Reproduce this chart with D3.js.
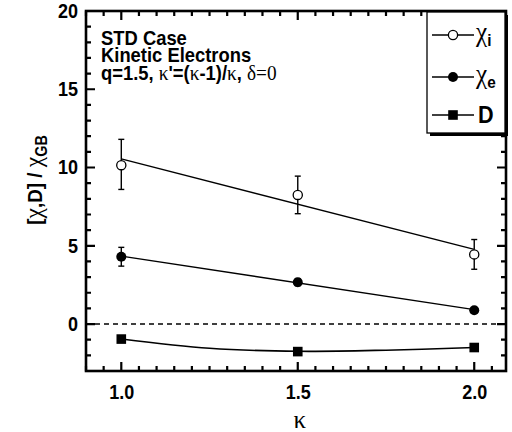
<!DOCTYPE html>
<html>
<head>
<meta charset="utf-8">
<script src="https://cdn.jsdelivr.net/npm/d3@7"></script>
<style>
  body { margin: 0; background: #fff; }
  svg { display: block; }
  .sans { font-family: "Liberation Sans", Arial, sans-serif; font-weight: bold; }
  .serif { font-family: "Liberation Serif", "Times New Roman", serif; font-weight: normal; }
</style>
</head>
<body>
<svg id="chart"></svg>
<script>
// data
let kappa = [1.0, 1.5, 2.0]
let chiI = [10.15, 8.25, 4.45]
let chiILow = [8.6, 7.05, 3.5]
let chiIHigh = [11.8, 9.45, 5.4]
let chiE = [4.3, 2.67, 0.88]
let chiELow = [3.7, 2.45, 0.88]
let chiEHigh = [4.9, 2.9, 0.88]
let dVal = [-0.96, -1.76, -1.5]

// fitted curves drawn in the figure
let fitKappa = [1.0, 2.0]
let chiIFit = [10.55, 4.77]
let chiEFit = [4.34, 0.92]
let dFitKappa = [1.0, 1.25, 1.5, 1.75, 2.0]
let dFit = [-0.96, -1.55, -1.74, -1.67, -1.5]

let xMajor = [1.0, 1.5, 2.0]
let yMajor = [0, 5, 10, 15, 20]

let w = 512
let h = 432
let pLeft = 86, pRight = 506, pTop = 11, pBottom = 371
let sq = 0.9  // horizontal squeeze for the condensed font

let svg = d3.select("#chart").attr("width", w).attr("height", h)

let x = d3.scaleLinear().domain([0.9, 2.09]).range([pLeft, pRight])
let y = d3.scaleLinear().domain([-3, 20]).range([pBottom, pTop])

let xMinor = d3.range(18, 42).map(i => i / 20).filter(v => !xMajor.some(m => Math.abs(m - v) < 1e-9))
let yMinor = d3.range(-3, 21).filter(v => !yMajor.includes(v))

// frame
svg.append("rect")
   .attr("x", pLeft).attr("y", pTop)
   .attr("width", pRight - pLeft).attr("height", pBottom - pTop)
   .attr("fill", "none").attr("stroke", "#000").attr("stroke-width", 2.6)

// tick labels from d3 axes
let labelAxis = (axis, tx, ty) => {
  let g = svg.append("g").attr("transform", `translate(${tx},${ty})`).call(axis)
  g.select(".domain").remove()
  g.selectAll(".tick line").remove()
  g.selectAll(".tick text")
   .attr("class", "sans")
   .style("font-size", "20px")
   .attr("fill", "#000")
   .attr("transform", `scale(${sq},1)`)
}
labelAxis(d3.axisLeft(y).tickValues(yMajor).tickSize(0).tickPadding(9).tickFormat(d3.format("d")), pLeft, 0)
labelAxis(d3.axisBottom(x).tickValues(xMajor).tickSize(0).tickPadding(14).tickFormat(d3.format(".1f")), 0, pBottom)

// tick marks, all pointing into the plot
let tickPath = (vals, len, scale, at, dir, vertical) => vals.map(v => {
  let p = scale(v)
  return vertical ? `M${at},${p}h${dir * len}` : `M${p},${at}v${dir * len}`
}).join("")
let tickD = tickPath(yMajor, 9, y, pLeft, 1, true) + tickPath(yMinor, 5, y, pLeft, 1, true)
          + tickPath(yMajor, 9, y, pRight, -1, true) + tickPath(yMinor, 5, y, pRight, -1, true)
          + tickPath(xMajor, 9, x, pBottom, -1, false) + tickPath(xMinor, 5, x, pBottom, -1, false)
          + tickPath(xMajor, 9, x, pTop, 1, false) + tickPath(xMinor, 5, x, pTop, 1, false)
svg.append("path").attr("d", tickD)
   .attr("fill", "none").attr("stroke", "#000").attr("stroke-width", 2.2)

// zero line
svg.append("line")
   .attr("x1", pLeft).attr("x2", pRight)
   .attr("y1", y(0)).attr("y2", y(0))
   .attr("stroke", "#000").attr("stroke-width", 1.5)
   .attr("stroke-dasharray", "5,4")

// fit lines
let line = d3.line().x(d => x(d[0])).y(d => y(d[1]))
svg.append("path").datum(d3.zip(fitKappa, chiIFit))
   .attr("d", line).attr("fill", "none").attr("stroke", "#000").attr("stroke-width", 1.4)
svg.append("path").datum(d3.zip(fitKappa, chiEFit))
   .attr("d", line).attr("fill", "none").attr("stroke", "#000").attr("stroke-width", 1.4)
svg.append("path").datum(d3.zip(dFitKappa, dFit))
   .attr("d", line.curve(d3.curveCardinal))
   .attr("fill", "none").attr("stroke", "#000").attr("stroke-width", 1.6)

// error bars
let drawErr = (lo, hi) => {
  let d = kappa.map((k, i) => ({ k: k, lo: lo[i], hi: hi[i] })).filter(e => e.hi > e.lo)
  let g = svg.append("g").attr("stroke", "#000").attr("stroke-width", 1.4)
  g.selectAll(".v").data(d).enter().append("line")
   .attr("x1", e => x(e.k)).attr("x2", e => x(e.k))
   .attr("y1", e => y(e.lo)).attr("y2", e => y(e.hi))
  g.selectAll(".t").data(d).enter().append("line")
   .attr("x1", e => x(e.k) - 3).attr("x2", e => x(e.k) + 3)
   .attr("y1", e => y(e.hi)).attr("y2", e => y(e.hi))
  g.selectAll(".b").data(d).enter().append("line")
   .attr("x1", e => x(e.k) - 3).attr("x2", e => x(e.k) + 3)
   .attr("y1", e => y(e.lo)).attr("y2", e => y(e.lo))
}
drawErr(chiILow, chiIHigh)
drawErr(chiELow, chiEHigh)

// markers
svg.append("g").selectAll("circle").data(d3.zip(kappa, chiI)).enter().append("circle")
   .attr("cx", d => x(d[0])).attr("cy", d => y(d[1])).attr("r", 4.6)
   .attr("fill", "#fff").attr("stroke", "#000").attr("stroke-width", 1.3)
svg.append("g").selectAll("circle").data(d3.zip(kappa, chiE)).enter().append("circle")
   .attr("cx", d => x(d[0])).attr("cy", d => y(d[1])).attr("r", 5)
   .attr("fill", "#000")
svg.append("g").selectAll("rect").data(d3.zip(kappa, dVal)).enter().append("rect")
   .attr("x", d => x(d[0]) - 4.8).attr("y", d => y(d[1]) - 4.8)
   .attr("width", 9.6).attr("height", 9.6)
   .attr("fill", "#000")

// annotation
let note = svg.append("g").attr("transform", `translate(101,0) scale(0.92,1)`)
note.append("text").attr("class", "sans").attr("y", 45).style("font-size", "20px").text("STD Case")
note.append("text").attr("class", "sans").attr("y", 62).style("font-size", "20px").text("Kinetic Electrons")
let l3 = note.append("text").attr("y", 80).style("font-size", "20px")
let parts = [["sans", "q=1.5, "], ["serif", "κ"], ["sans", "'=("], ["serif", "κ"], ["sans", "-1)/"], ["serif", "κ"], ["sans", ", "], ["serif", "δ=0"]]
parts.forEach(p => {
  l3.append("tspan").attr("class", p[0]).style("font-size", p[0] == "serif" ? "21px" : "20px").text(p[1])
})

// y axis title
let yt = svg.append("text")
   .attr("transform", `translate(42,180) rotate(-90) scale(${sq},1)`)
   .attr("text-anchor", "middle")
yt.append("tspan").attr("class", "sans").style("font-size", "21px").text("[")
yt.append("tspan").attr("class", "serif").style("font-size", "26px").text("χ")
yt.append("tspan").attr("class", "sans").style("font-size", "21px").text(",D] / ")
yt.append("tspan").attr("class", "serif").style("font-size", "26px").text("χ")
yt.append("tspan").attr("class", "sans").style("font-size", "16px").attr("dy", 5).text("GB")

// x axis title
svg.append("text").attr("class", "serif")
   .attr("x", x(1.5) + 2).attr("y", 428)
   .attr("text-anchor", "middle")
   .style("font-size", "25px")
   .text("κ")

// legend
let lg = svg.append("g")
lg.append("rect").attr("x", 430).attr("y", 15).attr("width", 78).attr("height", 121).attr("fill", "#000")
lg.append("rect").attr("x", 427).attr("y", 12).attr("width", 78).attr("height", 121)
  .attr("fill", "#fff").attr("stroke", "#000").attr("stroke-width", 1.3)

let legendY = [35, 77, 115]
let lx0 = 432, lx1 = 474, lm = 453
legendY.forEach(ly => {
  lg.append("line").attr("x1", lx0).attr("x2", lx1).attr("y1", ly).attr("y2", ly)
    .attr("stroke", "#000").attr("stroke-width", 1.5)
})
lg.append("circle").attr("cx", lm).attr("cy", legendY[0]).attr("r", 4.6)
  .attr("fill", "#fff").attr("stroke", "#000").attr("stroke-width", 1.3)
lg.append("circle").attr("cx", lm).attr("cy", legendY[1]).attr("r", 5).attr("fill", "#000")
lg.append("rect").attr("x", lm - 4.8).attr("y", legendY[2] - 4.8).attr("width", 9.6).attr("height", 9.6).attr("fill", "#000")

let t1 = lg.append("text").attr("transform", `translate(476,${legendY[0] + 6}) scale(${sq},1)`)
t1.append("tspan").attr("class", "serif").style("font-size", "28px").text("χ")
t1.append("tspan").attr("class", "sans").style("font-size", "17px").attr("dy", 5).text("i")
let t2 = lg.append("text").attr("transform", `translate(476,${legendY[1] + 6}) scale(${sq},1)`)
t2.append("tspan").attr("class", "serif").style("font-size", "28px").text("χ")
t2.append("tspan").attr("class", "sans").style("font-size", "17px").attr("dy", 5).text("e")
lg.append("text").attr("class", "sans")
  .attr("transform", `translate(478,${legendY[2] + 8}) scale(${sq},1)`)
  .style("font-size", "24px").text("D")
</script>
</body>
</html>
